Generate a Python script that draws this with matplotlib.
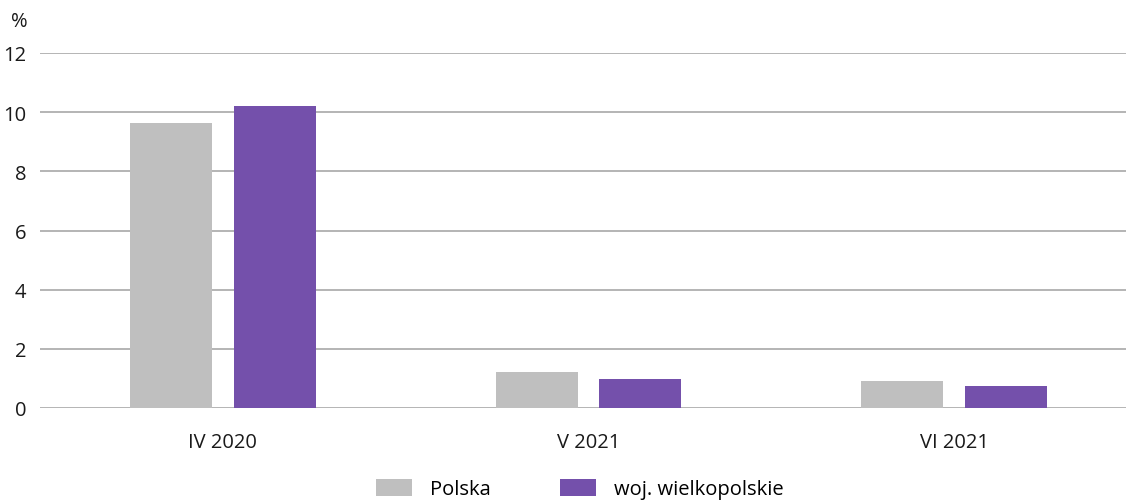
import numpy as np
import matplotlib.pyplot as plt

plt.rcParams['font.family'] = ['Open Sans', 'DejaVu Sans']

categories = ['IV 2020', 'V 2021', 'VI 2021']
polska = [9.63, 1.23, 0.90]
wielkopolskie = [10.2, 0.98, 0.73]
series_names = ['Polska', 'woj. wielkopolskie']
yticks = [0, 2, 4, 6, 8, 10, 12]

col_pl = '#bfbfbf'
col_wlkp = '#7450ab'
fs = 14.5

fig = plt.figure(figsize=(11.26, 5.02), dpi=100)
ax = fig.add_axes([40 / 1126, 93 / 502, 1 - 40 / 1126, 355 / 502])

x = np.arange(len(categories))
w = 0.224
off = 0.142
ax.bar(x - off, polska, w, color=col_pl, label=series_names[0], zorder=3)
ax.bar(x + off, wielkopolskie, w, color=col_wlkp, label=series_names[1], zorder=3)

ax.set_xlim(-0.5, 2.47)
ax.set_ylim(0, 12)
ax.set_yticks(yticks)
ax.set_xticks(x)
ax.set_xticklabels(categories)
ax.yaxis.grid(True, color='#a0a0a0', linewidth=1.1, zorder=0)
ax.set_axisbelow(True)
for s in ax.spines.values():
    s.set_visible(False)
ax.tick_params(axis='both', length=0, labelsize=fs, colors='#1a1a1a')
ax.tick_params(axis='y', pad=10)
ax.tick_params(axis='x', pad=17)

fig.text(11 / 1126, 1 - 22 / 502, '%', fontsize=fs, color='#1a1a1a', va='center', ha='left')

fig.legend(loc='center', bbox_to_anchor=(0.515, 1 - 490 / 502), ncol=2, frameon=False,
           fontsize=fs, handlelength=1.8, handleheight=0.9, handletextpad=0.9,
           columnspacing=3.4)

fig.savefig('out.png', dpi=100)
